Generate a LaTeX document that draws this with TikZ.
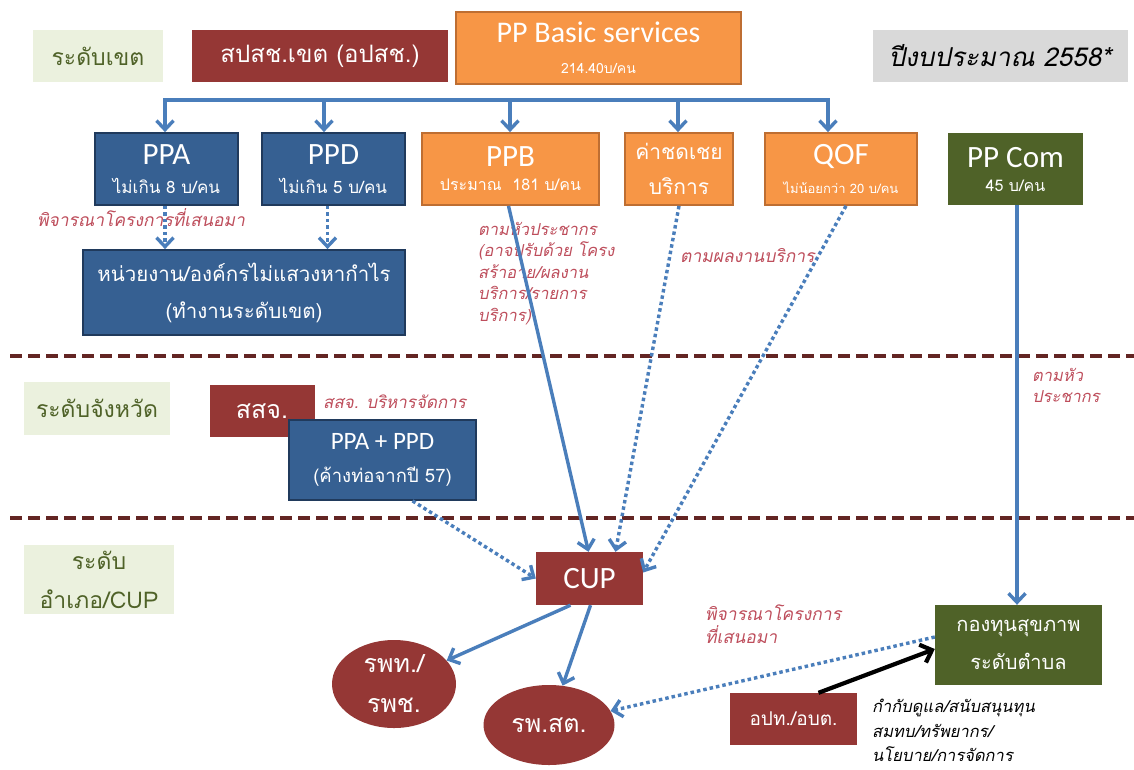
\documentclass[tikz,border=0pt]{standalone}
\usepackage{fontspec}
\setmainfont{Carlito}
\newfontfamily\thai[Script=Thai]{Loma}
\newfontfamily\thaiit[Script=Thai,FakeSlant=0.2]{Loma}
\usetikzlibrary{arrows.meta,shapes.geometric}
\definecolor{bbox}{RGB}{54,96,146}
\definecolor{bborder}{RGB}{32,58,92}
\definecolor{obox}{RGB}{247,150,70}
\definecolor{oborder}{RGB}{190,110,50}
\definecolor{rbox}{RGB}{149,55,53}
\definecolor{gbox}{RGB}{79,98,40}
\definecolor{lvlbg}{RGB}{235,241,222}
\definecolor{lvltext}{RGB}{79,98,40}
\definecolor{arr}{RGB}{74,126,187}
\definecolor{notec}{RGB}{190,78,92}
\definecolor{sepc}{RGB}{99,37,35}
\definecolor{greybg}{RGB}{217,217,217}
\newcommand{\fs}[1]{\fontsize{#1}{#1}\selectfont}
\begin{document}
\begin{tikzpicture}[x=1pt,y=-1pt,
  box/.style={rectangle,inner sep=0pt,align=center,text=white},
  bluebox/.style={box,fill=bbox,draw=bborder,line width=1.8pt},
  orbox/.style={box,fill=obox,draw=oborder,line width=1.8pt},
  redbox/.style={box,fill=rbox},
  grnbox/.style={box,fill=gbox},
  redell/.style={ellipse,inner sep=0pt,align=center,text=white,fill=rbox},
  lvl/.style={rectangle,fill=lvlbg,text=lvltext,align=center,inner sep=0pt,font=\thai\fs{23}},
  notelbl/.style={text=notec,align=left,inner sep=0pt,font=\thaiit\fontsize{16.5}{21.5}\selectfont},
  blk/.style={text=black,align=left,inner sep=0pt,font=\thaiit\fontsize{16.5}{24.5}\selectfont},
  solidarr/.style={draw=arr,line width=3.4pt,-{Straight Barb[length=9pt,width=17pt,line width=3.4pt]}},
  dotarr/.style={solidarr,dash pattern=on 3.5pt off 3pt},
  blkarr/.style={draw=black,line width=4.2pt,-{Straight Barb[length=10pt,width=19pt,line width=4.2pt]}},
  sepline/.style={draw=sepc,line width=3.5pt,dash pattern=on 12pt off 6pt},
]
\useasboundingbox[fill=white] (0,0) rectangle (1134,769);

% ---- level labels
\node[lvl,minimum width=130,minimum height=52] (lvl1) at (98,56) {ระดับเขต};
\node[lvl,minimum width=146,minimum height=53] (lvl2) at (97,408.5) {ระดับจังหวัด};
\node[lvl,minimum width=150,minimum height=69,font=\thai\fontsize{23}{39}\selectfont] (lvl3) at (99,579.5) {ระดับ\\อำเภอ/CUP};

% ---- top row
\node[redbox,minimum width=256,minimum height=52,font=\thai\fs{24}] (sps) at (320,56) {สปสช.เขต (อปสช.)};
\node[orbox,minimum width=285,minimum height=72] (ppbasic) at (598.5,48)
  {{\fs{30}PP Basic services}\\[19pt]{\thai\fs{14}214.40บ/คน}};
\node[box,fill=greybg,text=black,minimum width=255,minimum height=52,font=\thaiit\fs{26}] (year) at (1000,56) {ปีงบประมาณ 2558*};

% ---- second row
\node[bluebox,minimum width=143,minimum height=72] (ppa) at (166.5,169)
  {{\fs{31}PPA}\\[12pt]{\thai\fs{17}ไม่เกิน 8 บ/คน}};
\node[bluebox,minimum width=143,minimum height=72] (ppd) at (333.5,169)
  {{\fs{31}PPD}\\[12pt]{\thai\fs{17}ไม่เกิน 5 บ/คน}};
\node[orbox,minimum width=177,minimum height=72] (ppb) at (510.5,169)
  {{\fs{31}PPB}\\[12pt]{\thai\fs{16}ประมาณ~~181 บ/คน}};
\node[orbox,minimum width=108,minimum height=72,font=\thai\fontsize{21}{35}\selectfont] (comp) at (679,169)
  {ค่าชดเชย\\บริการ};
\node[orbox,minimum width=152,minimum height=72] (qof) at (841,169)
  {{\fs{31}QOF}\\[12pt]{\thai\fs{13}ไม่น้อยกว่า 20 บ/คน}};
\node[grnbox,minimum width=135,minimum height=72] (ppcom) at (1015.5,169)
  {{\fs{31}PP Com}\\[12pt]{\thai\fs{16}45 บ/คน}};

% ---- bracket
\coordinate (t1) at (165,100);
\coordinate (t2) at (324,100);
\coordinate (t3) at (510,100);
\coordinate (t4) at (678,100);
\coordinate (t5) at (828,100);
\draw[draw=arr,line width=3.4pt,line cap=rect] (t1) -- (t5);
\draw[solidarr] (t1) -- (t1 |- ppa.north);
\draw[solidarr] (t2) -- (t2 |- ppd.north);
\draw[solidarr] (t3) -- (t3 |- ppb.north);
\draw[solidarr] (t4) -- (t4 |- comp.north);
\draw[solidarr] (t5) -- (t5 |- qof.north);

% ---- region level
\node[bluebox,minimum width=322,minimum height=85,font=\thai\fontsize{20.5}{37}\selectfont] (npo) at (244,292.5)
  {หน่วยงาน/องค์กรไม่แสวงหากำไร\\(ทำงานระดับเขต)};
\draw[dotarr] ([xshift=-1.5pt]ppa.south) -- ([xshift=-1.5pt]ppa.south |- npo.north);
\draw[dotarr] ([xshift=-6pt]ppd.south) -- ([xshift=-6pt]ppd.south |- npo.north);
\node[notelbl,font=\thaiit\fs{17.5}] (n1) at (141,218) {พิจารณาโครงการที่เสนอมา};

% ---- separators
\coordinate (s1a) at (10,356);
\coordinate (s1b) at (1134,356);
\coordinate (s2a) at (10,518);
\coordinate (s2b) at (1134,518);
\draw[sepline] (s1a) -- (s1b);
\draw[sepline] (s2a) -- (s2b);

% ---- province level
\node[redbox,minimum width=105,minimum height=52,font=\thai\fs{25}] (ssj) at (262,411) {สสจ.};
\node[notelbl,anchor=west,font=\thaiit\fs{17}] (n3) at (323,402) {สสจ. บริหารจัดการ};
\node[bluebox,minimum width=187,minimum height=80] (ppapd) at (382.5,460)
  {{\fs{25}PPA + PPD}\\[16pt]{\thai\fs{18.5}(ค้างท่อจากปี 57)}};

% ---- CUP level
\node[redbox,minimum width=107,minimum height=53,font=\fs{31}] (cup) at (589.5,578.5) {CUP};
\node[grnbox,minimum width=167,minimum height=80,font=\thai\fontsize{20}{38}\selectfont] (kong) at (1018.5,645)
  {กองทุนสุขภาพ\\ระดับตำบล};
\node[redell,minimum width=124,minimum height=88,font=\thai\fontsize{25}{40}\selectfont] (rpt) at (394,684) {รพท./\\รพช.};
\node[redell,minimum width=131,minimum height=80,font=\thai\fs{25}] (rps) at (549,725) {รพ.สต.};
\node[redbox,minimum width=127,minimum height=52,font=\thai\fs{19}] (opt) at (793.5,719) {อปท./อบต.};

% ---- notes
\node[notelbl,anchor=north west] (n2) at (478,222)
  {ตามหัวประชากร\\(อาจปรับด้วย โครง\\สร้าอาย/ผลงาน\\บริการ/รายการ\\บริการ)};
\node[notelbl,anchor=west,font=\thaiit\fs{17.5}] (n4) at (680,256) {ตามผลงานบริการ};
\node[notelbl,anchor=north west] (n5) at (1032,368) {ตามหัว\\ประชากร};
\node[notelbl,anchor=north west,font=\thaiit\fontsize{17.5}{23}\selectfont] (n6) at (705,605) {พิจารณาโครงการ\\ที่เสนอมา};
\node[blk,anchor=north west] (n7) at (872,699) {กำกับดูแล/สนับสนุนทุน\\สมทบ/ทรัพยากร/\\นโยบาย/การจัดการ};

% ---- connectors
\draw[solidarr] ([xshift=-2pt]ppb.south) -- ([xshift=-1pt]cup.north);
\draw[dotarr] (comp.south) -- ([xshift=26pt]cup.north);
\draw[dotarr] ([xshift=5pt]qof.south) -- ([yshift=6pt]cup.east);
\draw[dotarr] ([xshift=30pt]ppapd.south) -- (cup.west);
\draw[solidarr] ([xshift=1.5pt]ppcom.south) -- ([xshift=1.5pt]ppcom.south |- kong.north);
\draw[solidarr] ([xshift=-19pt]cup.south) -- (rpt);
\draw[solidarr] ([xshift=1pt]cup.south) -- (rps);
\draw[dotarr] ([yshift=8pt]kong.west) -- (rps);
\draw[blkarr] ([xshift=25pt]opt.north) -- ([yshift=-4pt]kong.west);
\end{tikzpicture}
\end{document}
